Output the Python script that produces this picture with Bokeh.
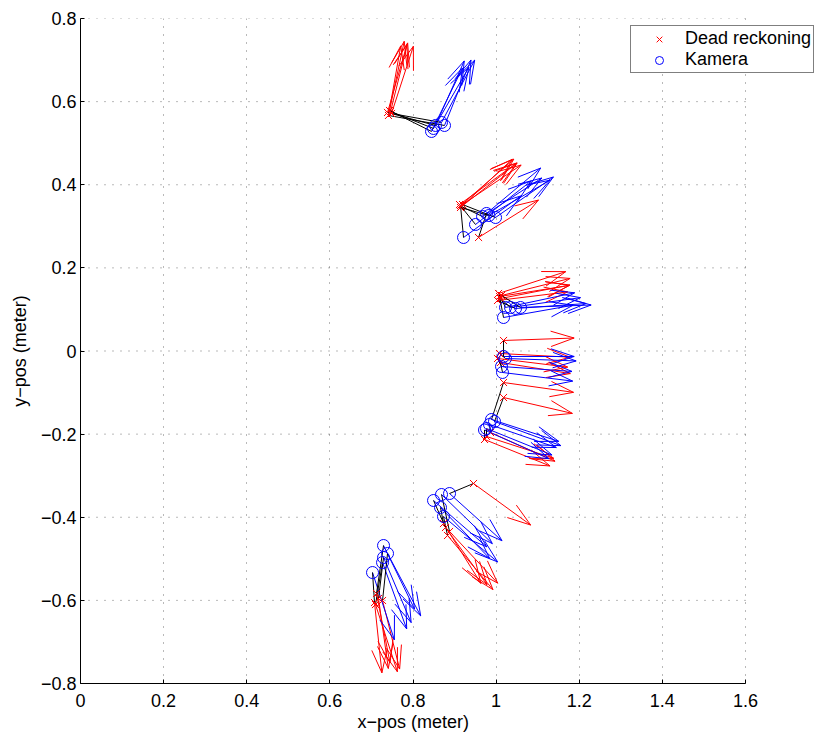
import numpy as np
from bokeh.plotting import figure
from bokeh.models import Range1d, Legend, LegendItem, FixedTicker, Title
from bokeh.embed import file_html
from bokeh.resources import INLINE

# ---- data (metres, headings in degrees) ----
dr_x = [0.7435, 0.7387, 0.7483, 0.7410, 0.7460,
        0.9143, 0.9119, 0.9167, 0.9143, 0.9192, 0.9577,
        1.0058, 1.0106, 1.0034, 1.0130, 1.0082,
        1.0178, 1.0082, 1.0034, 1.0106, 1.0178, 1.0178, 0.9769, 0.9865, 0.9721,
        0.9456, 0.8782, 0.8879, 0.8734, 0.8831,
        0.7074, 0.7122, 0.7267, 0.7170, 0.7098]
dr_y = [0.5787, 0.5739, 0.5715, 0.5667, 0.5763,
        0.3501, 0.3524, 0.3477, 0.3453, 0.3524, 0.2731,
        0.1384, 0.1263, 0.1215, 0.1335, 0.1311,
        0.0253, -0.0060, -0.0180, -0.0277, -0.0758, -0.1119, -0.2057, -0.1961, -0.2129,
        -0.3188, -0.4247, -0.4343, -0.4151, -0.4439,
        -0.6052, -0.5835, -0.6003, -0.5955, -0.6100]
dr_heading = [78, 74, 72, 80, 76,
              41, 36, 38, 43, 34, 32,
              18, 11, 7, 14, 9,
              2, -3, -7, -9, -8, -13, -18, -24, -22,
              -36, -54, -47, -58, -50,
              -84, -79, -76, -82, -72]

cam_x = [0.8446, 0.8542, 0.8686, 0.8758, 0.8494,
         0.9216, 0.9504, 0.9673, 0.9827, 0.9986, 0.9769,
         1.0226, 1.0346, 1.0467, 1.0587, 1.0178,
         1.0178, 1.0226, 1.0130, 1.0154, 0.9889, 0.9961, 0.9769, 0.9841, 0.9721,
         0.8879, 0.8494, 0.8686, 0.8662, 0.8734,
         0.7026, 0.7291, 0.7387, 0.7291, 0.7267]
cam_y = [0.5282, 0.5426, 0.5498, 0.5426, 0.5354,
         0.2731, 0.3044, 0.3236, 0.3260, 0.3212, 0.3309,
         0.1047, 0.1047, 0.1023, 0.1047, 0.0806,
         -0.0132, -0.0180, -0.0373, -0.0517, -0.1648, -0.1696, -0.1865, -0.1769, -0.1901,
         -0.3429, -0.3597, -0.3453, -0.3766, -0.3982,
         -0.5330, -0.4680, -0.4872, -0.4969, -0.5089]
cam_heading = [64, 66, 62, 68, 60,
               36, 38, 33, 30, 35, 40,
               12, 8, 4, 2, 10,
               0, -2, -4, -7, -18, -20, -22, -19, -24,
               -42, -41, -44, -46, -40,
               -72, -64, -62, -67, -70]

x_ticks = [0, 0.2, 0.4, 0.6, 0.8, 1.0, 1.2, 1.4, 1.6]
x_tick_labels = ["0", "0.2", "0.4", "0.6", "0.8", "1", "1.2", "1.4", "1.6"]
y_ticks = [-0.8, -0.6, -0.4, -0.2, 0, 0.2, 0.4, 0.6, 0.8]
y_tick_labels = ["\u22120.8", "\u22120.6", "\u22120.4", "\u22120.2", "0", "0.2", "0.4", "0.6", "0.8"]
x_label = "x\u2212pos (meter)"
y_label = "y\u2212pos (meter)"

ARROW_LEN = 0.17
FONT = "Liberation Sans"

# layout (pixels)
FIG_W, FIG_H = 820, 734
LEFT, TOP, AXIS_PX = 80, 18, 665
FRAME_W = FIG_W - LEFT
X_MIN, X_MAX = x_ticks[0], x_ticks[-1]
X_VIEW_END = X_MIN + (X_MAX - X_MIN) * FRAME_W / AXIS_PX   # room for the legend
X_LABEL_W = 111  # approx. rendered width of the x label at 18px


def quiver(x, y, heading):
    x = np.asarray(x, float)
    y = np.asarray(y, float)
    t = np.deg2rad(np.asarray(heading, float))
    u = ARROW_LEN * np.cos(t)
    v = ARROW_LEN * np.sin(t)
    a, b = 0.33, 0.33
    tx, ty = x + u, y + v
    h1x = tx - a * (u + b * v)
    h1y = ty - a * (v - b * u)
    h2x = tx - a * (u - b * v)
    h2y = ty - a * (v + b * u)
    x0 = np.concatenate([x, tx, tx])
    y0 = np.concatenate([y, ty, ty])
    x1 = np.concatenate([tx, h1x, h2x])
    y1 = np.concatenate([ty, h1y, h2y])
    return x0, y0, x1, y1


p = figure(width=FIG_W, height=FIG_H, output_backend="svg", toolbar_location=None,
           x_range=Range1d(X_MIN, X_VIEW_END), y_range=Range1d(y_ticks[0], y_ticks[-1]),
           min_border_left=LEFT, min_border_right=0, min_border_top=TOP,
           min_border_bottom=FIG_H - TOP - AXIS_PX)
p.outline_line_color = None
p.background_fill_color = "white"
p.border_fill_color = "white"

# horizontal dotted grid lines limited to the axis span
p.ygrid.visible = False
n = len(y_ticks)
p.segment([X_MIN] * n, y_ticks, [X_MAX] * n, y_ticks, line_color="black",
          line_alpha=0.55, line_dash="1 7", line_width=1, level="underlay")

# arrows
x0, y0, x1, y1 = quiver(dr_x, dr_y, dr_heading)
p.segment(x0, y0, x1, y1, line_color="#FF0000", line_width=1)
x0, y0, x1, y1 = quiver(cam_x, cam_y, cam_heading)
p.segment(x0, y0, x1, y1, line_color="#0000FF", line_width=1)

# connecting lines
p.segment(dr_x, dr_y, cam_x, cam_y, line_color="black", line_width=1)

r_dr = p.scatter(dr_x, dr_y, marker="x", size=10, color="#FF0000", line_width=1)
r_cam = p.scatter(cam_x, cam_y, marker="circle", size=12, fill_color=None,
                  line_color="#0000FF", line_width=1)

# axes
for ax, ticks, labels in ((p.xaxis, x_ticks, x_tick_labels), (p.yaxis, y_ticks, y_tick_labels)):
    ax.ticker = FixedTicker(ticks=ticks)
    ax.major_label_overrides = {t: l for t, l in zip(ticks, labels)}
    ax.major_tick_in = 4
    ax.major_tick_out = 0
    ax.minor_tick_in = 0
    ax.minor_tick_out = 0
    ax.axis_line_color = "black"
    ax.major_tick_line_color = "black"
    ax.major_label_text_font = FONT
    ax.major_label_text_font_size = "18px"
    ax.major_label_text_color = "black"
    ax.axis_label_text_font = FONT
    ax.axis_label_text_font_size = "18px"
    ax.axis_label_text_font_style = "normal"
    ax.axis_label_text_color = "black"

p.xaxis.bounds = (X_MIN, X_MAX)
p.yaxis.axis_label = y_label
p.xaxis.major_label_standoff = 10
p.yaxis.major_label_standoff = 4
p.yaxis.axis_label_standoff = 8

# x label centred under the 0..1.6 span (the frame is wider to hold the legend)
xt = Title(text=x_label, align="left", offset=AXIS_PX / 2 - X_LABEL_W / 2,
           text_font=FONT, text_font_size="18px", text_font_style="normal",
           text_color="black", standoff=0)
p.add_layout(xt, "below")

p.xgrid.grid_line_color = "black"
p.xgrid.grid_line_alpha = 0.55
p.xgrid.grid_line_dash = "1 7"
p.xgrid.grid_line_width = 1

legend = Legend(items=[LegendItem(label="Dead reckoning", renderers=[r_dr]),
                       LegendItem(label="Kamera", renderers=[r_cam])],
                location=(550, 610))
legend.label_text_font = FONT
legend.label_text_font_size = "18px"
legend.label_text_color = "black"
legend.glyph_width = 52
legend.glyph_height = 20
legend.label_height = 20
legend.label_standoff = 0
legend.padding = 2
legend.spacing = 0
legend.margin = 0
legend.border_line_color = "black"
legend.border_line_width = 1
legend.background_fill_color = "white"
legend.background_fill_alpha = 1
p.add_layout(legend)

open("out.html", "w").write(file_html(p, INLINE))
